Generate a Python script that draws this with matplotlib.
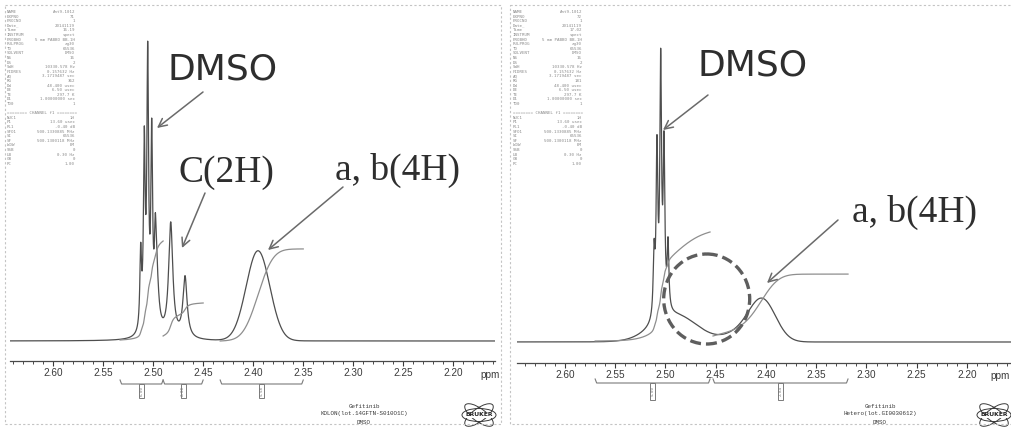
import numpy as np
import matplotlib
matplotlib.use("Agg")
import matplotlib.pyplot as plt
from matplotlib.patches import Ellipse, Rectangle
from matplotlib.ticker import MultipleLocator, FormatStrFormatter

W, H = 1012, 429

# ---------------- spectral data (1H NMR, DMSO-d6, 2.15-2.65 ppm) ----------------
# KOLON lot: sharp lines (Lorentzian: position ppm, height, half width ppm)
left_line_ppm = [2.5124, 2.5088, 2.5054, 2.5014, 2.4978, 2.4967, 2.4824, 2.4681]
left_line_height = [76, 181, 266, 184, 55, 60, 114, 61]
left_line_hwhm = [0.0010, 0.0010, 0.0010, 0.0010, 0.0010, 0.0025, 0.0025, 0.0025]
# broad exchange band (Gaussian: position, height, sigma)
left_band_ppm = [2.3952]
left_band_height = [90]
left_band_sigma = [0.0118]

# Hetero lot
right_line_ppm = [2.5114, 2.5085, 2.5048, 2.5015, 2.4975]
right_line_height = [62, 162, 246, 160, 65]
right_line_hwhm = [0.0010, 0.0010, 0.0010, 0.0010, 0.0010]
right_band_ppm = [2.4900, 2.4230, 2.4030]
right_band_height = [26, 10, 39]
right_band_sigma = [0.0220, 0.0160, 0.0130]

# integration regions (from ppm, to ppm) and integral values
left_int_from = [2.533, 2.490, 2.433]
left_int_to = [2.490, 2.450, 2.350]
left_int_values = [6.00, 2.00, 5.58]
right_int_from = [2.570, 2.4527]
right_int_to = [2.4557, 2.3184]
right_int_values = [5.00, 2.84]

# acquisition parameter listings
left_params = [
    ("NAME", "Ant9-1012"), ("EXPNO", "71"), ("PROCNO", "1"), ("Date_", "20141119"),
    ("Time", "16.19"), ("INSTRUM", "spect"), ("PROBHD", "5 mm PABBO BB-1H"),
    ("PULPROG", "zg30"), ("TD", "65536"), ("SOLVENT", "DMSO"), ("NS", "16"),
    ("DS", "2"), ("SWH", "10330.578 Hz"), ("FIDRES", "0.157632 Hz"),
    ("AQ", "3.1719487 sec"), ("RG", "362"), ("DW", "48.400 usec"),
    ("DE", "6.50 usec"), ("TE", "297.7 K"), ("D1", "1.00000000 sec"), ("TD0", "1"),
    ("", ""), ("======== CHANNEL f1 ========", ""), ("NUC1", "1H"),
    ("P1", "13.60 usec"), ("PL1", "-0.40 dB"), ("SFO1", "500.1330885 MHz"),
    ("SI", "65536"), ("SF", "500.1300118 MHz"), ("WDW", "EM"), ("SSB", "0"),
    ("LB", "0.30 Hz"), ("GB", "0"), ("PC", "1.00"),
]
right_params = [
    ("NAME", "Ant9-1012"), ("EXPNO", "72"), ("PROCNO", "1"), ("Date_", "20141119"),
    ("Time", "17.02"), ("INSTRUM", "spect"), ("PROBHD", "5 mm PABBO BB-1H"),
    ("PULPROG", "zg30"), ("TD", "65536"), ("SOLVENT", "DMSO"), ("NS", "16"),
    ("DS", "2"), ("SWH", "10330.578 Hz"), ("FIDRES", "0.157632 Hz"),
    ("AQ", "3.1719487 sec"), ("RG", "181"), ("DW", "48.400 usec"),
    ("DE", "6.50 usec"), ("TE", "297.7 K"), ("D1", "1.00000000 sec"), ("TD0", "1"),
    ("", ""), ("======== CHANNEL f1 ========", ""), ("NUC1", "1H"),
    ("P1", "13.60 usec"), ("PL1", "-0.40 dB"), ("SFO1", "500.1330885 MHz"),
    ("SI", "65536"), ("SF", "500.1300118 MHz"), ("WDW", "EM"), ("SSB", "0"),
    ("LB", "0.30 Hz"), ("GB", "0"), ("PC", "1.00"),
]
left_caption = ["Gefitinib", "KOLON(lot.14GFTN-S010O1C)", "DMSO"]
right_caption = ["Gefitinib", "Hetero(lot.GI0030612)", "DMSO"]

SPEC_COLOR = "#4e4e4e"
INT_COLOR = "#8e8e8e"
TEXT_COLOR = "#2e2e2e"
ARROW_COLOR = "#6a6a6a"
TICK_FONT = ["Liberation Sans Narrow", "Liberation Sans"]

ppm = np.linspace(2.70, 2.10, 30001)


def spectrum(lp, lh, lw, bp, bh, bs):
    y = np.zeros_like(ppm)
    for c, h, w in zip(lp, lh, lw):
        y += h * w ** 2 / ((ppm - c) ** 2 + w ** 2)
    for c, h, s in zip(bp, bh, bs):
        y += h * np.exp(-0.5 * ((ppm - c) / s) ** 2)
    return y


fig = plt.figure(figsize=(W / 100, H / 100), dpi=100)
fig.patch.set_facecolor("white")


def make_panel(px_left, px_right, px_axis, px_top, ref_ppm, ref_px, px_per_ppm, base_px):
    ppm_l = ref_ppm + (ref_px - px_left) / px_per_ppm
    ppm_r = ref_ppm - (px_right - ref_px) / px_per_ppm
    ax = fig.add_axes([px_left / W, 1 - px_axis / H,
                       (px_right - px_left) / W, (px_axis - px_top) / H])
    ax.set_xlim(ppm_l, ppm_r)
    ax.set_ylim(base_px - px_axis, base_px - px_top)
    ax.patch.set_alpha(0)
    for s in ("left", "right", "top"):
        ax.spines[s].set_visible(False)
    ax.spines["bottom"].set_color("#4a4a4a")
    ax.spines["bottom"].set_linewidth(0.9)
    ax.set_yticks([])
    ax.xaxis.set_major_locator(MultipleLocator(0.05))
    ax.xaxis.set_minor_locator(MultipleLocator(0.01))
    ax.xaxis.set_major_formatter(FormatStrFormatter("%.2f"))
    ax.tick_params(axis="x", which="major", length=3.4, width=0.8, direction="out",
                   pad=2.0, labelsize=7.2, colors="#3a3a3a")
    ax.tick_params(axis="x", which="minor", length=1.8, width=0.7, direction="out",
                   colors="#4a4a4a")
    for lbl in ax.get_xticklabels():
        lbl.set_family(TICK_FONT)
    return ax


def draw_integrals(ax, y, starts, ends, values, scale, offsets):
    for a, b, v, off in zip(starts, ends, values, offsets):
        m = (ppm <= a) & (ppm >= b)
        c = np.cumsum(y[m])
        c = c / c[-1] * (v * scale) + off
        ax.plot(ppm[m], c, color=INT_COLOR, lw=0.9)


def draw_brackets(ax, base_px, starts, ends, values, y_line, y_end, y_box):
    for a, b, v in zip(starts, ends, values):
        mid = 0.5 * (a + b)
        ax.plot([a, a - 0.0015, b + 0.0015, b],
                [base_px - y_end, base_px - y_line, base_px - y_line, base_px - y_end],
                color="#7a7a7a", lw=0.8, clip_on=False)
        ax.add_patch(Rectangle((mid + 0.0025, base_px - y_box), -0.005, y_box - y_line,
                               fill=False, ec="#7a7a7a", lw=0.7, clip_on=False))
        ax.text(mid, base_px - 0.5 * (y_line + y_box), f"{v:.2f}", rotation=90,
                ha="center", va="center", fontsize=3.0, color="#777777",
                family="DejaVu Sans Mono", clip_on=False)


# ---- left panel ----
axL = make_panel(10, 495, 361, 5, 2.60, 53, 1001, 341)
yL = spectrum(left_line_ppm, left_line_height, left_line_hwhm,
              left_band_ppm, left_band_height, left_band_sigma)
axL.plot(ppm, yL, color=SPEC_COLOR, lw=0.9)
draw_integrals(axL, yL, left_int_from, left_int_to, left_int_values, 16.5, [1, 5, 0])
draw_brackets(axL, 341, left_int_from, left_int_to, left_int_values, 384, 380, 398)

# ---- right panel ----
axR = make_panel(517, 1012, 363, 5, 2.60, 565, 1005, 342)
yR = spectrum(right_line_ppm, right_line_height, right_line_hwhm,
              right_band_ppm, right_band_height, right_band_sigma)
axR.plot(ppm, yR, color=SPEC_COLOR, lw=0.9)
draw_integrals(axR, yR, right_int_from, right_int_to, right_int_values, 21.8, [1, 6])
draw_brackets(axR, 342, right_int_from, right_int_to, right_int_values, 383, 379, 400)

# ---- overlay in pixel coordinates ----
ov = fig.add_axes([0, 0, 1, 1])
ov.set_xlim(0, W)
ov.set_ylim(H, 0)
ov.axis("off")
ov.patch.set_alpha(0)

# dotted panel frames
for x0, x1 in ((5, 501), (510, 1030)):
    ov.plot([x0, x1, x1, x0, x0], [5, 5, 424, 424, 5], color="#c4c4c4", lw=0.8,
            ls=(0, (2, 2)), clip_on=True)

# parameter listings
for params, xn, xv in ((left_params, 7, 75), (right_params, 513, 582)):
    for i, (k, v) in enumerate(params):
        yy = 12 + i * 4.6
        ov.text(xn, yy, k, fontsize=3.0, family="DejaVu Sans Mono", color="#8a8a8a",
                ha="left", va="center")
        if v:
            ov.text(xv, yy, v, fontsize=3.0, family="DejaVu Sans Mono", color="#8a8a8a",
                    ha="right", va="center")

# ppm unit labels
ov.text(480, 375, "ppm", fontsize=7.2, family=TICK_FONT,
        color="#3a3a3a", ha="left", va="center")
ov.text(990, 376, "ppm", fontsize=7.2, family=TICK_FONT,
        color="#3a3a3a", ha="left", va="center")

# captions
for lines, xc in ((left_caption, 364), (right_caption, 880)):
    for i, t in enumerate(lines):
        ov.text(xc, 406 + i * 8, t, fontsize=4.2, family="Liberation Mono",
                color="#3a3a3a", ha="center", va="center")

# Bruker logos
for xc in (479, 994):
    for ang in (0, 36, -36):
        ov.add_patch(Ellipse((xc, 415), 34, 13, angle=ang, fill=False, ec="#3a3a3a", lw=0.7))
    ov.text(xc, 415, "BRUKER", fontsize=4.4, fontweight="bold", family="DejaVu Sans",
            color="#222222", ha="center", va="center",
            bbox=dict(fc="white", ec="none", pad=0.2))

# peak annotations
label_kw = dict(ha="center", va="baseline", color=TEXT_COLOR)
ov.text(223, 80, "DMSO", fontsize=26, family="DejaVu Sans", **label_kw)
ov.text(226, 182, "C(2H)", fontsize=27, family="Liberation Serif", **label_kw)
ov.text(398, 180, "a, b(4H)", fontsize=27, family="Liberation Serif", **label_kw)
ov.text(753, 75, "DMSO", fontsize=26, family="DejaVu Sans", **label_kw)
ov.text(915, 222, "a, b(4H)", fontsize=27, family="Liberation Serif", **label_kw)

arrows = [((203, 92), (157, 128)), ((205, 193), (182, 248)), ((343, 187), (268, 250)),
          ((708, 95), (663, 130)), ((838, 220), (767, 283))]
for start, tip in arrows:
    ov.annotate("", xy=tip, xytext=start,
                arrowprops=dict(arrowstyle="->", color=ARROW_COLOR, lw=1.1,
                                mutation_scale=15, shrinkA=0, shrinkB=0))

# highlighted valley region
ov.add_patch(Ellipse((706.7, 299), 86, 90, fill=False, ec="#5e5e5e", lw=2.4,
                     ls=(0, (3.3, 1.5))))

fig.savefig("out.png", dpi=100)
